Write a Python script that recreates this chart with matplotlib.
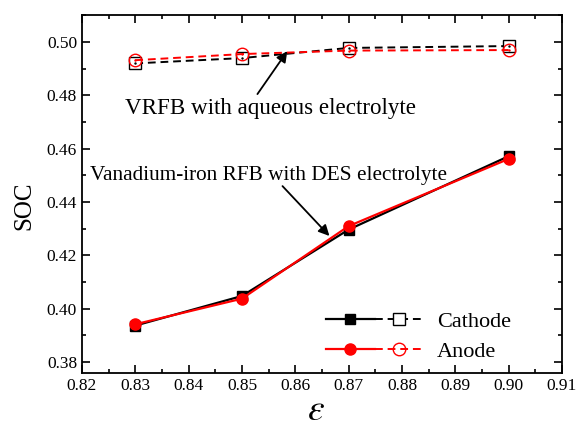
import numpy as np
import matplotlib
matplotlib.use('Agg')
import matplotlib.pyplot as plt
from matplotlib.legend_handler import HandlerTuple
from matplotlib.ticker import MultipleLocator, FormatStrFormatter

plt.rcParams['font.family'] = ['Liberation Serif', 'DejaVu Serif']
plt.rcParams['mathtext.fontset'] = 'stix'

# efficiency values
eps = [0.83, 0.85, 0.87, 0.90]

# vanadium-iron RFB with DES electrolyte (solid)
des_cathode = [0.3937, 0.4048, 0.4297, 0.4572]
des_anode = [0.3942, 0.4038, 0.4310, 0.4562]

# VRFB with aqueous electrolyte (dashed)
aq_cathode = [0.4920, 0.4940, 0.4978, 0.4985]
aq_anode = [0.4932, 0.4955, 0.4968, 0.4970]

fig, ax = plt.subplots(figsize=(5.77, 4.32), dpi=100)
fig.subplots_adjust(left=0.142, right=0.974, top=0.965, bottom=0.137)

c_solid, = ax.plot(eps, des_cathode, '-', color='black', lw=1.6,
                   marker='s', ms=7, mfc='black', mec='black')
a_solid, = ax.plot(eps, des_anode, '-', color='red', lw=1.6,
                   marker='o', ms=8, mfc='red', mec='red')
c_dash, = ax.plot(eps, aq_cathode, '--', color='black', lw=1.4, dashes=(4, 2.5),
                  marker='s', ms=9, mfc='white', mec='black', mew=1.0)
a_dash, = ax.plot(eps, aq_anode, '--', color='red', lw=1.4, dashes=(4, 2.5),
                  marker='o', ms=9, mfc='none', mec='red', mew=1.0)
# little center dots of the open symbols
ax.plot(eps, aq_cathode, ls='none', marker='.', ms=1.5, color='black')
ax.plot(eps, aq_anode, ls='none', marker='.', ms=1.5, color='red')

ax.set_xlim(0.82, 0.91)
ax.set_ylim(0.376, 0.5101)
ax.xaxis.set_major_locator(MultipleLocator(0.01))
ax.xaxis.set_minor_locator(MultipleLocator(0.005))
ax.yaxis.set_major_locator(MultipleLocator(0.02))
ax.yaxis.set_minor_locator(MultipleLocator(0.01))
ax.xaxis.set_major_formatter(FormatStrFormatter('%.2f'))
ax.yaxis.set_major_formatter(FormatStrFormatter('%.2f'))
ax.tick_params(which='both', direction='in', top=True, right=True,
               labelsize=12.5, width=1.2)
ax.tick_params(which='major', length=6)
ax.tick_params(which='minor', length=3)
for s in ax.spines.values():
    s.set_linewidth(1.3)

ax.set_ylabel('SOC', fontsize=18)
ax.yaxis.set_label_coords(-0.098, 0.466)
ax.set_xlabel(r'$\varepsilon$', fontsize=27, labelpad=0)
ax.xaxis.label.set_x(0.487)

arrow = dict(arrowstyle='-|>', color='black', lw=1.3, mutation_scale=16,
             shrinkA=0, shrinkB=0)
ax.text(0.8553, 0.4730, 'VRFB with aqueous electrolyte', ha='center',
        va='baseline', fontsize=16.6)
ax.annotate('', xy=(0.8585, 0.4966), xytext=(0.8529, 0.4805), arrowprops=arrow)
ax.text(0.8549, 0.4483, 'Vanadium-iron RFB with DES electrolyte', ha='center',
        va='baseline', fontsize=15.3)
ax.annotate('', xy=(0.8664, 0.4273), xytext=(0.8576, 0.4460), arrowprops=arrow)

leg = ax.legend([(c_solid, c_dash), (a_solid, a_dash)], ['Cathode', 'Anode'],
                handler_map={tuple: HandlerTuple(ndivide=2, pad=0.0)},
                loc='lower left', bbox_to_anchor=(0.49, 0.005), frameon=False,
                fontsize=16, handlelength=4.4, handletextpad=0.6,
                labelspacing=0.45, borderaxespad=0.0)

fig.savefig('out.png', dpi=100)
